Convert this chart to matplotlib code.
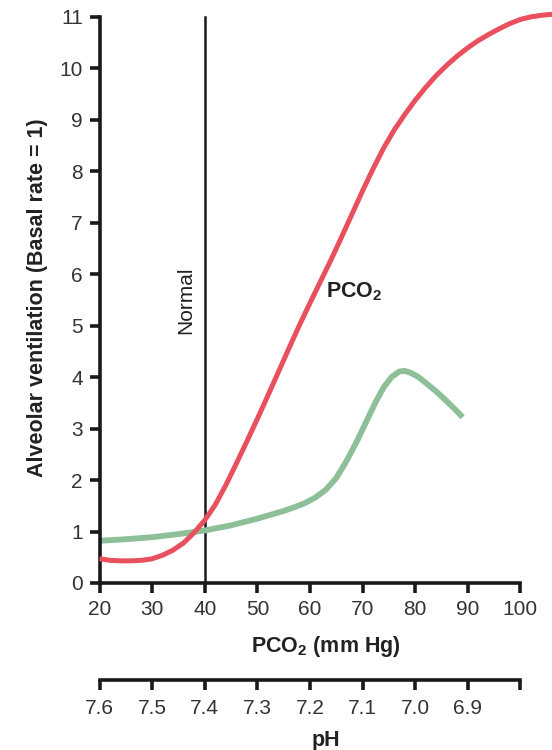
import numpy as np
import matplotlib
matplotlib.use("Agg")
import matplotlib.pyplot as plt

plt.rcParams['font.family'] = ['Liberation Sans', 'DejaVu Sans']
plt.rcParams['mathtext.default'] = 'regular'

# PCO2 response curve (red)
pco2_x = [20, 22, 24, 26, 28, 30, 32, 34, 36, 38, 40, 42, 44, 46, 48, 50, 52, 54, 56, 58,
          60, 62, 64, 66, 68, 70, 72, 74, 76, 78, 80, 82, 84, 86, 88, 90, 92, 94, 96, 98,
          100, 102, 104, 106]
pco2_y = [0.47, 0.44, 0.43, 0.43, 0.44, 0.47, 0.54, 0.64, 0.78, 0.98, 1.22, 1.52, 1.90, 2.32,
          2.75, 3.19, 3.64, 4.10, 4.56, 5.01, 5.44, 5.86, 6.28, 6.72, 7.17, 7.62, 8.05, 8.45,
          8.80, 9.10, 9.38, 9.63, 9.86, 10.06, 10.24, 10.40, 10.54, 10.66, 10.77, 10.87,
          10.95, 11.00, 11.03, 11.05]

# pH response curve (green)
ph_x = [20, 25, 30, 35, 40, 45, 50, 55, 57, 59, 61, 63, 65, 67, 69, 71, 72.5, 74, 75.5, 77,
        78, 79, 80.5, 82, 84, 86, 88, 89]
ph_y = [0.82, 0.85, 0.89, 0.95, 1.02, 1.12, 1.25, 1.40, 1.47, 1.55, 1.66, 1.81, 2.04, 2.38,
        2.77, 3.20, 3.52, 3.80, 4.00, 4.11, 4.12, 4.09, 4.01, 3.89, 3.72, 3.53, 3.33, 3.22]

xticks = [20, 30, 40, 50, 60, 70, 80, 90, 100]
yticks = list(range(0, 12))
ph_labels = ['7.6', '7.5', '7.4', '7.3', '7.2', '7.1', '7.0', '6.9', '']

red = '#e8505e'
green = '#8dbf98'
ink = '#1a1a1a'

fig = plt.figure(figsize=(5.52, 7.5), dpi=100)
ax = fig.add_axes([0.1803, 0.2227, 0.8197, 0.7617])
ax.set_xlim(20, 106)
ax.set_ylim(0, 11.1)

ax.plot(pco2_x, pco2_y, color=red, lw=3.6, solid_capstyle='butt', clip_on=False, zorder=3)
ax.plot(ph_x, ph_y, color=green, lw=4.2, solid_capstyle='butt', zorder=2)
ax.plot([40, 40], [0, 11], color=ink, lw=1.8, zorder=1)

for s in ['top', 'right']:
    ax.spines[s].set_visible(False)
for s in ['left', 'bottom']:
    ax.spines[s].set_linewidth(2.6)
    ax.spines[s].set_color(ink)
ax.spines['left'].set_bounds(0, 11)
ax.spines['bottom'].set_bounds(20, 100)
ax.set_xticks(xticks)
ax.set_yticks(yticks)
ax.tick_params(axis='both', direction='out', length=7, width=2.6, color=ink,
               labelsize=15, labelcolor='#333333', pad=5)

ax.set_ylabel('Alveolar ventilation (Basal rate = 1)', fontsize=15.5, fontweight='bold',
              color='#222222', labelpad=8)
ax.set_xlabel('P$\\mathregular{CO_2}$ (mm Hg)', fontsize=15.5, fontweight='bold',
              color='#222222', labelpad=11)

ax.text(36.3, 5.5, 'Normal', rotation=90, ha='center', va='center', fontsize=15, color='#222222')
ax.text(63.1, 5.65, 'P$\\mathregular{CO_2}$', ha='left', va='center', fontsize=15.5,
        fontweight='bold', color='#222222')

# pH scale
ax2 = fig.add_axes([0.1803, 0.0933, 0.8197, 0.0001])
ax2.set_xlim(20, 106)
for s in ['top', 'right', 'left']:
    ax2.spines[s].set_visible(False)
ax2.spines['bottom'].set_bounds(20, 100)
ax2.spines['bottom'].set_linewidth(2.6)
ax2.spines['bottom'].set_color(ink)
ax2.set_yticks([])
ax2.set_xticks(xticks)
ax2.set_xticklabels(ph_labels)
ax2.tick_params(axis='x', direction='out', length=7, width=2.6, color=ink,
                labelsize=15, labelcolor='#333333', pad=7)
ax2.set_xlabel('pH', fontsize=15.5, fontweight='bold', color='#222222', labelpad=8)

fig.savefig('out.png', dpi=100)
